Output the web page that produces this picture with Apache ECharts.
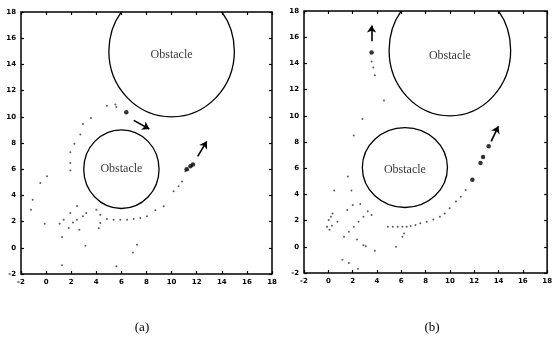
<!DOCTYPE html>
<html>
<head>
<meta charset="utf-8">
<script src="https://cdn.jsdelivr.net/npm/echarts@6/dist/echarts.min.js"></script>
<style>
  html, body { margin: 0; padding: 0; background: #fff; }
  #chart { width: 555px; height: 345px; }
</style>
</head>
<body>
<div id="chart"></div>
<script>
  // panel (a)
  var aObstacles = [[10, 15, 5, 5], [6, 6, 3, 3]];          // cx, cy, rx, ry
  var aObstacleText = [[10, 14.7], [6, 6]];
  var aDots = [
    [5.52, 10.93], [5.6, 10.75], [4.85, 10.85], [3.58, 9.9], [2.94, 9.45], [2.73, 8.64],
    [2.25, 7.95], [1.93, 7.29], [1.93, 6.47], [1.93, 5.9], [0.07, 5.46], [-0.46, 4.95],
    [-1.07, 3.67], [-1.2, 2.9], [-0.11, 1.84], [2.46, 3.2], [1.93, 2.66], [1.4, 2.15],
    [1.08, 1.84], [3.2, 2.66], [2.94, 2.4], [2.46, 2.15], [2.14, 1.94], [1.8, 1.51],
    [2.65, 1.38], [4.0, 2.9], [4.32, 2.53], [4.85, 2.2], [5.38, 2.15], [5.91, 2.15],
    [6.45, 2.15], [6.98, 2.2], [7.5, 2.27], [8.04, 2.4], [8.7, 2.86], [9.37, 3.17],
    [4.32, 1.9], [4.19, 1.5], [10.16, 4.31], [10.56, 4.69], [10.83, 5.07], [11.1, 5.84],
    [11.3, 5.95], [1.27, 0.82], [3.13, 0.16], [7.24, 0.24], [6.92, -0.35], [1.27, -1.34],
    [5.6, -1.41]
  ];
  var aBig = [[6.39, 10.34], [11.5, 6.22], [11.7, 6.35], [11.2, 6.0]];
  var aArrows = [
    [[6.98, 9.73], [8.23, 9.07]],
    [[12.08, 6.98], [12.8, 8.13]]
  ];

  // panel (b)
  var bObstacles = [[10, 15, 5, 5], [6.3, 6.05, 3.5, 3.05]];
  var bObstacleText = [[10, 14.6], [6.3, 5.9]];
  var bDots = [
    [3.56, 14.14], [3.7, 13.68], [3.83, 13.1], [4.58, 11.17], [2.81, 9.76], [2.09, 8.49],
    [1.61, 5.37], [1.9, 4.29], [0.49, 4.29], [1.56, 2.81], [2.01, 3.19], [2.63, 3.27],
    [0.03, 2.04], [0.22, 2.3], [0.35, 2.55], [-0.1, 1.53], [0.1, 1.3], [0.3, 1.6],
    [1.29, 0.76], [1.69, 1.15], [2.09, 1.53], [2.49, 1.91], [2.89, 2.3], [3.24, 2.71],
    [3.56, 2.42], [0.75, 1.91], [2.36, 0.56], [2.89, 0.12], [3.08, 0.05], [3.83, -0.31],
    [5.57, 0.0], [1.16, -0.98], [1.69, -1.23], [2.44, -1.67],
    [4.9, 1.53], [5.3, 1.53], [5.7, 1.53], [6.1, 1.53], [6.45, 1.53], [6.77, 1.58],
    [7.17, 1.66], [7.57, 1.79], [8.1, 1.91], [8.64, 2.09], [9.18, 2.3], [9.58, 2.55],
    [9.98, 2.94], [10.5, 3.45], [10.9, 3.83], [11.3, 4.34], [6.23, 1.02], [6.1, 0.76]
  ];
  var bBig = [[3.56, 14.83], [11.85, 5.11], [12.52, 6.39], [12.73, 6.85], [13.19, 7.67]];
  var bArrows = [
    [[3.56, 15.7], [3.56, 16.9]],
    [[13.4, 8.05], [13.99, 9.2]]
  ];

  var axisMin = -2, axisMax = 18, axisStep = 2;

  function renderObstacle(params, api) {
    var c = api.coord([api.value(0), api.value(1)]);
    var s = api.size([api.value(2), api.value(3)]);
    return {
      type: 'ellipse',
      shape: { cx: c[0], cy: c[1], rx: s[0], ry: s[1] },
      style: { fill: 'none', stroke: '#000', lineWidth: 1.3 }
    };
  }

  function makeAxis(i, pos, withLabels) {
    return {
      gridIndex: i, type: 'value', position: pos,
      min: axisMin, max: axisMax, interval: axisStep,
      axisLine: { show: false, onZero: false }, splitLine: { show: false },
      axisTick: { inside: true, length: 3, lineStyle: { color: '#000', width: 1.2 } },
      axisLabel: {
        show: withLabels, color: '#000', fontSize: 7, fontWeight: 'bold',
        fontFamily: 'DejaVu Sans', margin: 5
      }
    };
  }

  function panelSeries(i, obstacles, texts, dots, big, arrows) {
    return [
      {
        type: 'custom', xAxisIndex: 2 * i, yAxisIndex: 2 * i, clip: true,
        renderItem: renderObstacle, data: obstacles, silent: true
      },
      {
        type: 'scatter', xAxisIndex: 2 * i, yAxisIndex: 2 * i, symbolSize: 0, data: texts,
        label: {
          show: true, position: 'inside', formatter: 'Obstacle',
          color: '#000', fontSize: 12, fontFamily: 'Liberation Serif'
        }
      },
      {
        type: 'scatter', xAxisIndex: 2 * i, yAxisIndex: 2 * i, symbol: 'circle', symbolSize: 2,
        itemStyle: { color: '#333' }, data: dots
      },
      {
        type: 'scatter', xAxisIndex: 2 * i, yAxisIndex: 2 * i, symbol: 'circle', symbolSize: 4.5,
        itemStyle: { color: '#000' }, data: big
      },
      {
        type: 'lines', coordinateSystem: 'cartesian2d', xAxisIndex: 2 * i, yAxisIndex: 2 * i,
        symbol: ['none', 'arrow'], symbolSize: [5, 7],
        lineStyle: { color: '#000', width: 1.6, opacity: 1 },
        data: arrows.map(function(a) { return { coords: a }; })
      }
    ];
  }

  var option = {
    backgroundColor: '#fff',
    animation: false,
    title: [
      { text: '(a)', left: 137, top: 316, textAlign: 'center',
        textStyle: { fontSize: 13, fontWeight: 'normal', fontFamily: 'Liberation Serif', color: '#000' } },
      { text: '(b)', left: 427, top: 316, textAlign: 'center',
        textStyle: { fontSize: 13, fontWeight: 'normal', fontFamily: 'Liberation Serif', color: '#000' } }
    ],
    grid: [
      { left: 21, top: 12, width: 251, height: 262, show: true, borderColor: '#000', borderWidth: 1.5, backgroundColor: '#fff' },
      { left: 304, top: 11, width: 249, height: 262, show: true, borderColor: '#000', borderWidth: 1.5, backgroundColor: '#fff' }
    ],
    xAxis: [makeAxis(0, 'bottom', true), makeAxis(0, 'top', false),
            makeAxis(1, 'bottom', true), makeAxis(1, 'top', false)],
    yAxis: [makeAxis(0, 'left', true), makeAxis(0, 'right', false),
            makeAxis(1, 'left', true), makeAxis(1, 'right', false)],
    series: panelSeries(0, aObstacles, aObstacleText, aDots, aBig, aArrows)
      .concat(panelSeries(1, bObstacles, bObstacleText, bDots, bBig, bArrows))
  };

  echarts.init(document.getElementById('chart')).setOption(option);
</script>
</body>
</html>
